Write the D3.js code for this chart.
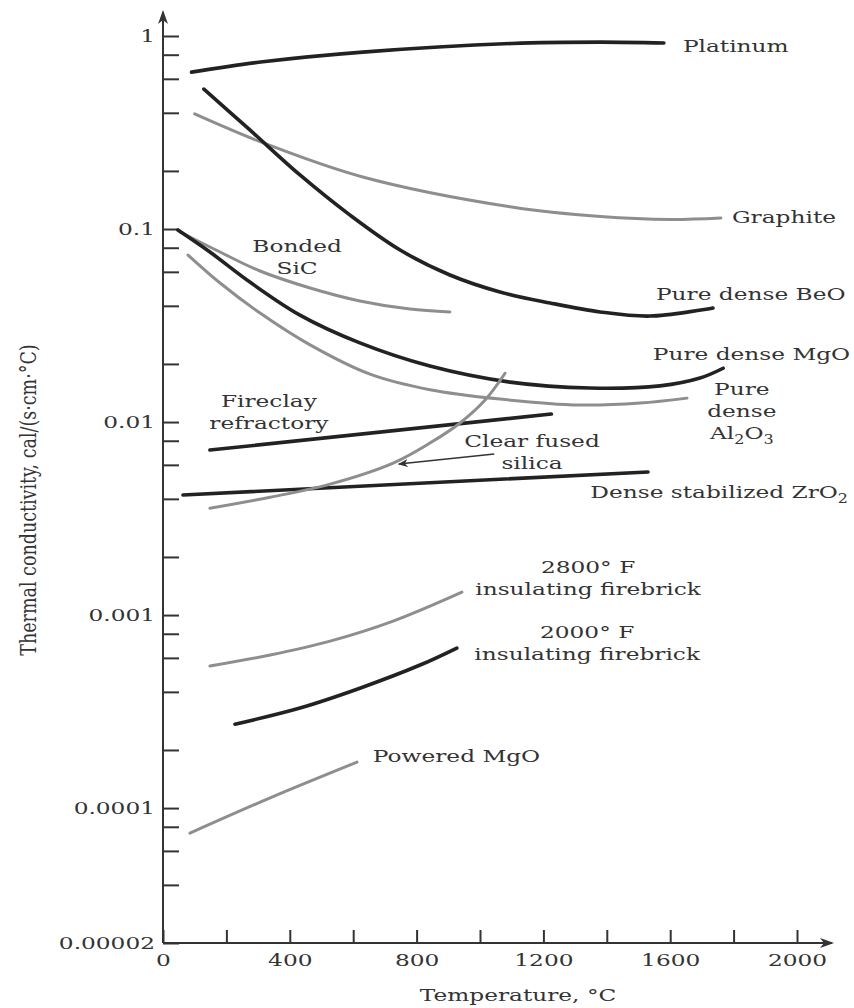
<!DOCTYPE html>
<html>
<head>
<meta charset="utf-8">
<title>Thermal conductivity of ceramic materials</title>
<script src="https://cdn.jsdelivr.net/npm/d3@7"></script>
<style>
  body { margin: 0; background: #fff; }
  text { font-family: "DejaVu Serif", serif; font-size: 17.5px; fill: #333; }
</style>
</head>
<body>
<div id="chart"></div>
<script>

// [temperature °C, conductivity cal/(s·cm·°C)]
var platinum = [[90, 0.65], [315, 0.735], [630, 0.825], [1100, 0.915], [1380, 0.93], [1580, 0.92]];
var graphite = [[100, 0.395], [315, 0.28], [630, 0.186], [1100, 0.13], [1380, 0.116], [1600, 0.112], [1760, 0.114]];
var beo = [[129, 0.531], [274, 0.326], [432, 0.1905], [590, 0.118], [748, 0.0778], [905, 0.0578],
    [1063, 0.0472], [1221, 0.0414], [1379, 0.0372], [1536, 0.0354], [1735, 0.039]];
var sic = [[54, 0.0965], [180, 0.076], [306, 0.0606], [464, 0.0495], [621, 0.0424], [779, 0.0385], [905, 0.0372]];
var mgo = [[47, 0.0988], [148, 0.076], [274, 0.0531], [432, 0.0358], [621, 0.0257], [842, 0.0195],
    [1095, 0.0161], [1347, 0.015], [1568, 0.0154], [1694, 0.0169], [1767, 0.019]];
var al2o3 = [[79, 0.0733], [180, 0.0525], [306, 0.0367], [464, 0.0251], [653, 0.0177], [842, 0.0147],
    [1063, 0.01315], [1315, 0.01225], [1505, 0.01254], [1653, 0.0133]];
var fireclay = [[148, 0.00716], [1225, 0.011]];
var zro2 = [[63, 0.00419], [1530, 0.00551]];
var silica = [[148, 0.00358], [338, 0.00408], [527, 0.00477], [726, 0.00613], [842, 0.00778],
    [937, 0.00989], [1016, 0.013], [1079, 0.0179]];
var brick2800 = [[148, 0.000544], [338, 0.000621], [527, 0.000733], [726, 0.000931], [943, 0.001315]];
var brick2000 = [[227, 0.000272], [432, 0.00033], [621, 0.000418], [811, 0.000551], [927, 0.000675]];
var powderMgO = [[85, 0.0000742], [338, 0.000113], [612, 0.000173]];

var xTicks = [0, 200, 400, 600, 800, 1000, 1200, 1400, 1600, 1800, 2000];
var xLabels = ["0", "400", "800", "1200", "1600", "2000"];
var yTicks = [1, 0.8, 0.6, 0.4, 0.2, 0.1, 0.08, 0.06, 0.04, 0.02,
    0.01, 0.008, 0.006, 0.004, 0.002, 0.001, 0.0008, 0.0006, 0.0004, 0.0002,
    0.0001, 0.00008, 0.00006, 0.00004];
var yLabels = ["1", "0.1", "0.01", "0.001", "0.0001", "0.00002"];

// curve labels, anchored in data units; "_2" means subscript 2
var notes = [
    { lines: ["Platinum"], t: 1640, k: 0.826, anchor: "start" },
    { lines: ["Graphite"], t: 1795, k: 0.1074, anchor: "start" },
    { lines: ["Pure dense BeO"], t: 1555, k: 0.0429, anchor: "start" },
    { lines: ["Pure dense MgO"], t: 1545, k: 0.021, anchor: "start" },
    { lines: ["Pure", "dense", "Al_2O_3"], t: 1826, k: 0.0138, anchor: "middle" },
    { lines: ["Clear fused", "silica"], t: 1164, k: 0.00742, anchor: "middle" },
    { lines: ["Dense stabilized ZrO_2"], t: 1348, k: 0.00404, anchor: "start" },
    { lines: ["Fireclay", "refractory"], t: 334, k: 0.01196, anchor: "middle" },
    { lines: ["Bonded", "SiC"], t: 423, k: 0.076, anchor: "middle" },
    { lines: ["2800° F", "insulating firebrick"], t: 1341, k: 0.00165, anchor: "middle" },
    { lines: ["2000° F", "insulating firebrick"], t: 1338, k: 0.00076, anchor: "middle" },
    { lines: ["Powered MgO"], t: 662, k: 0.000173, anchor: "start" }
];
var silicaPointer = [[1045, 0.00683], [744, 0.00606]];

function drawChart() {

    var width = 854, height = 1008;
    var stretch = 1.33; // the printed lettering is wide
    var svg = d3.select("#chart").append("svg")
        .attr("width", width)
        .attr("height", height);

    var x = d3.scaleLinear().domain([0, 2000]).range([163, 797]);
    var y = d3.scaleLog().domain([0.00002, 1]).range([943, 36]);

    var defs = svg.append("defs");
    defs.append("marker")
        .attr("id", "axis-arrow")
        .attr("viewBox", "0 0 14 10")
        .attr("refX", 12).attr("refY", 5)
        .attr("markerWidth", 14).attr("markerHeight", 10)
        .attr("markerUnits", "userSpaceOnUse")
        .attr("orient", "auto")
        .append("path")
        .attr("d", "M0,0 L14,5 L0,10 L4,5 Z")
        .attr("fill", "#333");
    defs.append("marker")
        .attr("id", "small-arrow")
        .attr("viewBox", "0 0 10 8")
        .attr("refX", 9).attr("refY", 4)
        .attr("markerWidth", 10).attr("markerHeight", 8)
        .attr("markerUnits", "userSpaceOnUse")
        .attr("orient", "auto")
        .append("path")
        .attr("d", "M0,0 L10,4 L0,8 L3,4 Z")
        .attr("fill", "#333");

    // y axis, ticks point into the plot
    var yAxis = d3.axisLeft(y)
        .tickValues(yTicks.concat([0.00002]))
        .tickSize(-16)
        .tickPadding(6)
        .tickFormat(function (d) {
            var lab = yLabels.find(function (l) { return +l === d; });
            return lab ? lab : "";
        });
    var gy = svg.append("g")
        .attr("transform", "translate(" + x(0) + ",0)")
        .call(yAxis);
    gy.select(".domain").remove();
    gy.selectAll(".tick line").attr("stroke", "#333").attr("stroke-width", 2);
    gy.selectAll(".tick text").attr("transform", "scale(" + stretch + ",1)");

    var xAxis = d3.axisBottom(x)
        .tickValues(xTicks)
        .tickSize(-13)
        .tickPadding(11)
        .tickFormat(function (d) {
            return xLabels.indexOf(String(d)) >= 0 ? String(d) : "";
        });
    var gx = svg.append("g")
        .attr("transform", "translate(0," + y(0.00002) + ")")
        .call(xAxis);
    gx.select(".domain").remove();
    gx.selectAll(".tick line").attr("stroke", "#333").attr("stroke-width", 2);
    gx.selectAll(".tick text").attr("transform", "scale(" + stretch + ",1)");
    svg.selectAll(".tick text").attr("font-family", null).attr("font-size", null).attr("fill", "#333");

    // axis lines with arrow heads
    svg.append("line")
        .attr("x1", x(0)).attr("y1", y(0.00002))
        .attr("x2", x(0)).attr("y2", 12)
        .attr("stroke", "#333").attr("stroke-width", 2)
        .attr("marker-end", "url(#axis-arrow)");
    svg.append("line")
        .attr("x1", x(0)).attr("y1", y(0.00002))
        .attr("x2", 832).attr("y2", y(0.00002))
        .attr("stroke", "#333").attr("stroke-width", 2)
        .attr("marker-end", "url(#axis-arrow)");

    // curves
    var series = [
        { values: platinum, tone: "dark" },
        { values: graphite, tone: "gray" },
        { values: beo, tone: "dark" },
        { values: sic, tone: "gray" },
        { values: al2o3, tone: "gray" },
        { values: mgo, tone: "dark" },
        { values: fireclay, tone: "dark" },
        { values: zro2, tone: "dark" },
        { values: silica, tone: "gray" },
        { values: brick2800, tone: "gray" },
        { values: brick2000, tone: "dark" },
        { values: powderMgO, tone: "gray" }
    ];

    var line = d3.line()
        .x(function (d) { return x(d[0]); })
        .y(function (d) { return y(d[1]); })
        .curve(d3.curveCatmullRom.alpha(0.5));

    svg.append("g")
        .attr("class", "curves")
        .selectAll("path")
        .data(series)
        .enter().append("path")
        .attr("d", function (d) { return line(d.values); })
        .attr("fill", "none")
        .attr("stroke", function (d) { return d.tone === "dark" ? "#222" : "#8e8e8e"; })
        .attr("stroke-width", function (d) { return d.tone === "dark" ? 3.6 : 3; })
        .attr("stroke-linecap", "round");

    svg.append("line")
        .attr("x1", x(silicaPointer[0][0])).attr("y1", y(silicaPointer[0][1]))
        .attr("x2", x(silicaPointer[1][0])).attr("y2", y(silicaPointer[1][1]))
        .attr("stroke", "#333").attr("stroke-width", 1.4)
        .attr("marker-end", "url(#small-arrow)");

    // labels
    var note = svg.append("g")
        .attr("class", "notes")
        .selectAll("text")
        .data(notes)
        .enter().append("text")
        .attr("text-anchor", function (d) { return d.anchor; })
        .attr("transform", function (d) {
            return "translate(" + x(d.t) + "," + y(d.k) + ") scale(" + stretch + ",1)";
        });

    note.each(function (d) {
        var el = d3.select(this);
        d.lines.forEach(function (str, i) {
            var parts = str.split(/(_\d)/).filter(function (p) { return p.length; });
            parts.forEach(function (p, j) {
                var ts = el.append("tspan");
                if (j === 0) ts.attr("x", 0).attr("y", i * 22);
                if (p.charAt(0) === "_") {
                    ts.text(p.slice(1)).attr("font-size", 12).attr("dy", 5);
                } else {
                    ts.text(p);
                    if (j > 0) ts.attr("dy", -5);
                }
            });
        });
    });

    // axis titles
    svg.append("text")
        .attr("text-anchor", "middle")
        .attr("transform", "translate(" + x(1120) + ",1001) scale(" + stretch + ",1)")
        .text("Temperature, °C");

    svg.append("text")
        .attr("text-anchor", "middle")
        .attr("font-size", 19.5)
        .attr("transform", "translate(36,500) scale(1.25,1) rotate(-90)")
        .text("Thermal conductivity, cal/(s·cm·°C)");
}

drawChart();
</script>
</body>
</html>
